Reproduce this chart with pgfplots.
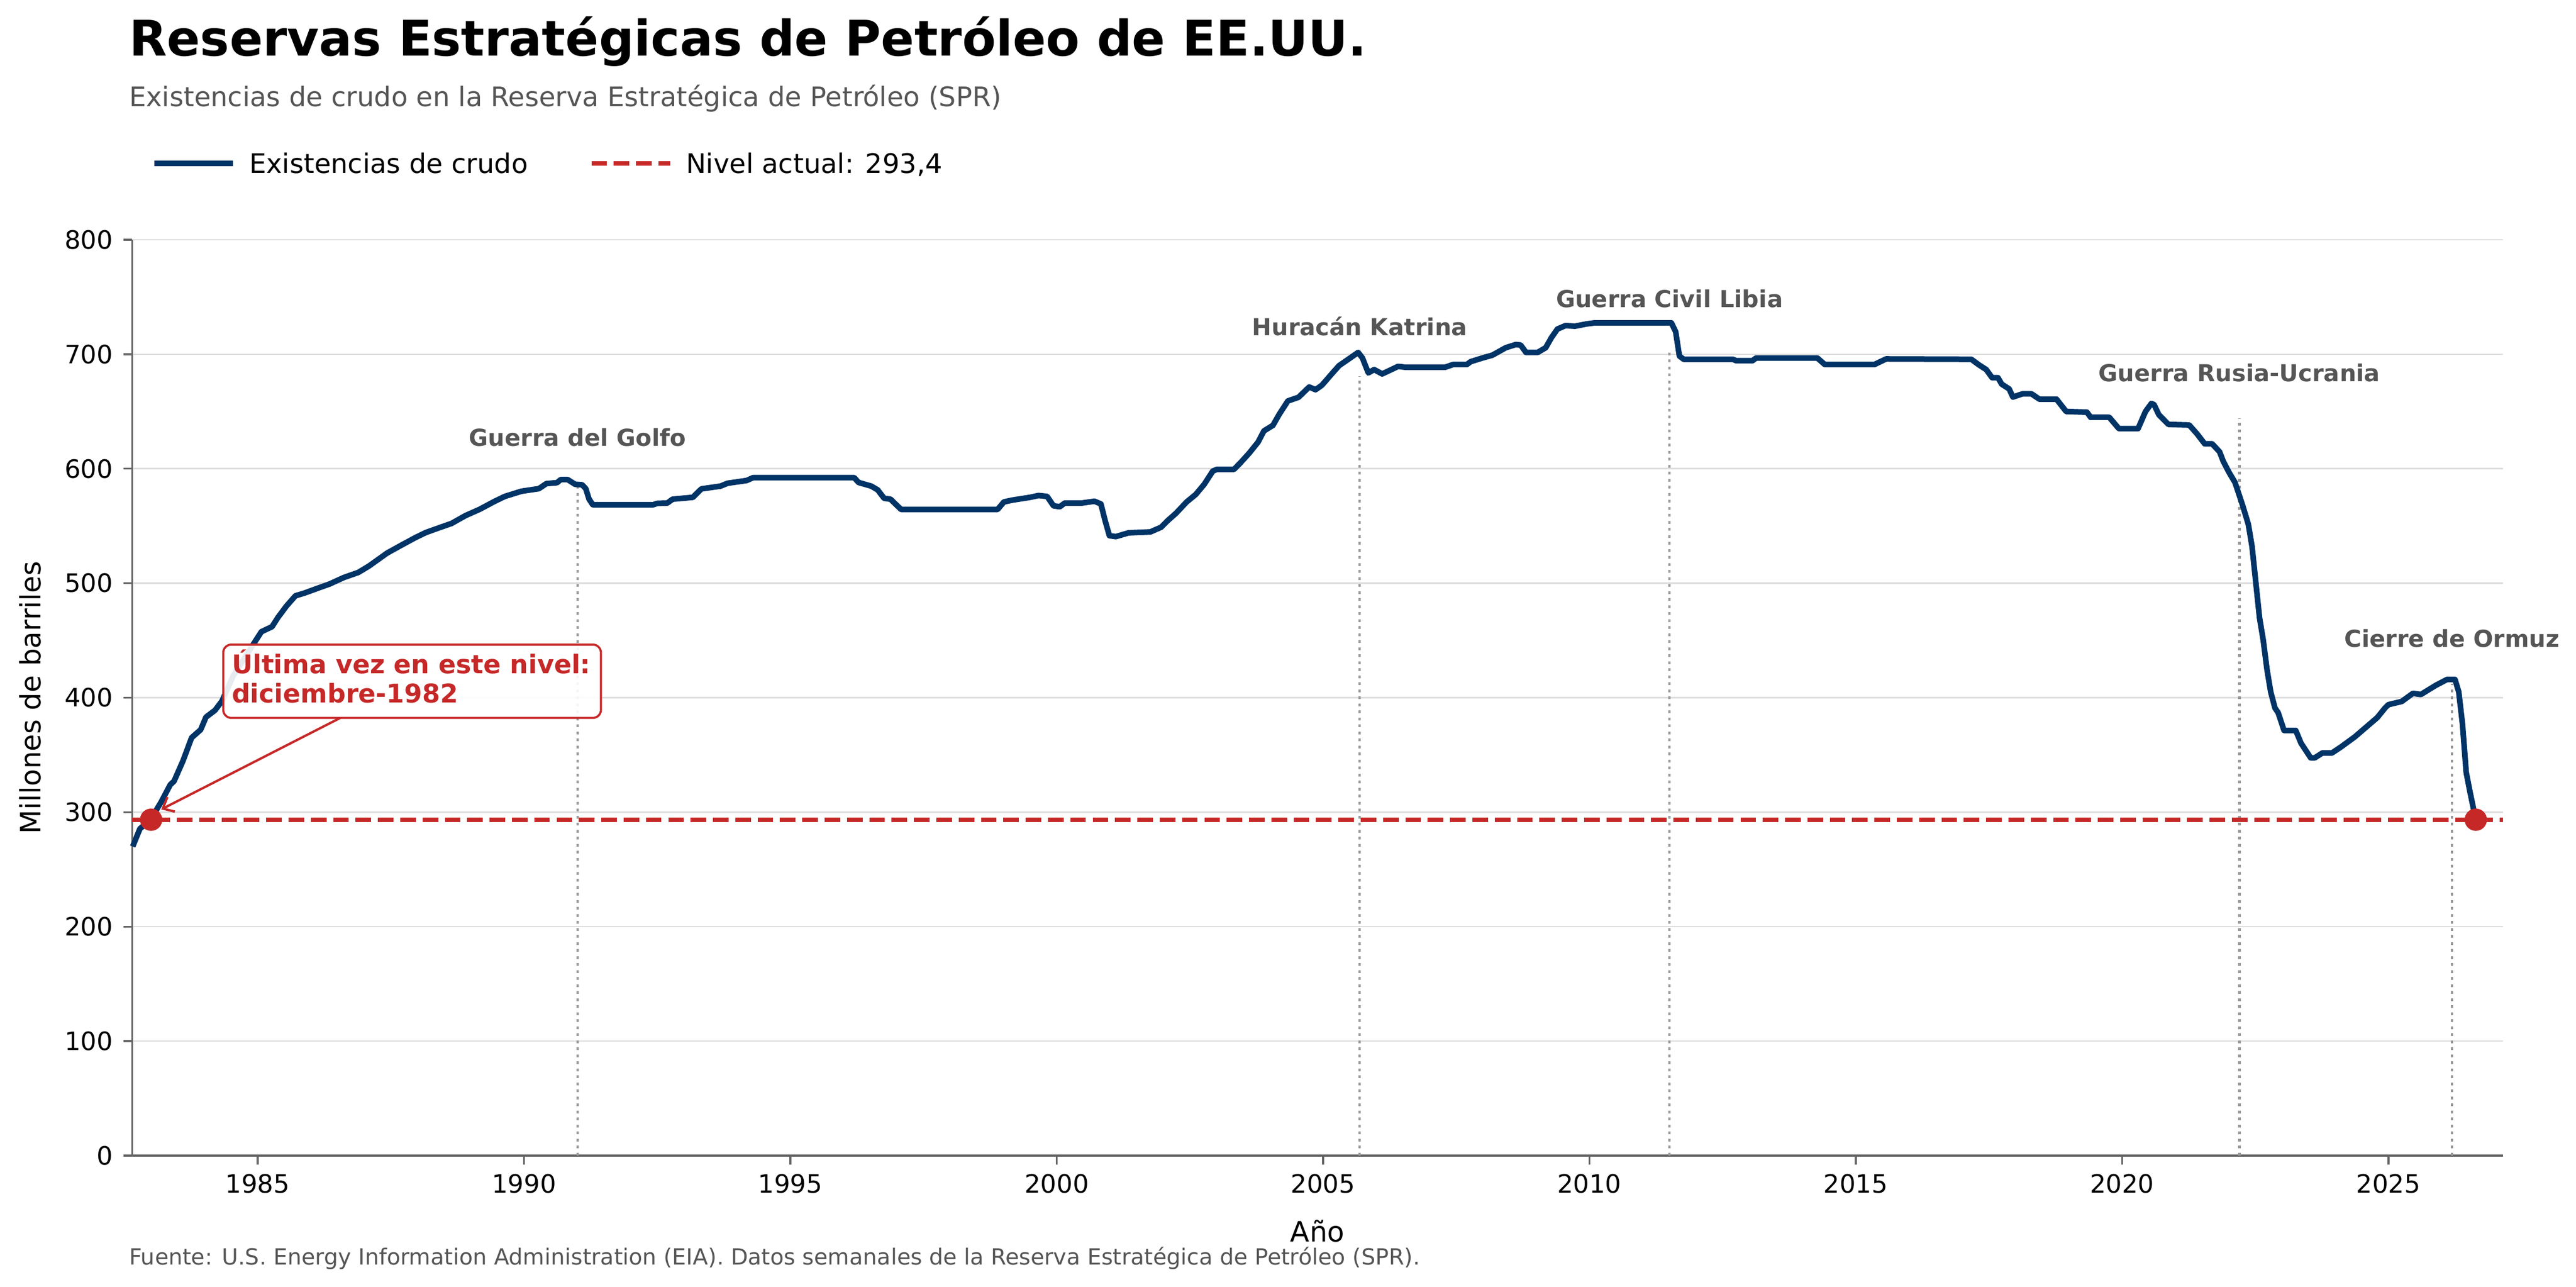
\documentclass[border=0pt]{standalone}
\usepackage{pgfplots}
\pgfplotsset{compat=1.18}
\usepackage{fontspec}
\setmainfont{DejaVu Sans}
\usetikzlibrary{arrows.meta}
\definecolor{navy}{HTML}{003366}
\definecolor{spr}{HTML}{C62828}
\definecolor{txtgray}{HTML}{555555}
\definecolor{spine}{HTML}{666666}
\definecolor{gridc}{HTML}{DDDDDD}
\definecolor{evgray}{HTML}{999999}

\begin{document}
\begin{tikzpicture}
\path[use as bounding box] (0pt,0pt) rectangle (1101.36pt,550.08pt);
\node[anchor=base west, inner sep=0pt, font=\fontsize{21}{25}\selectfont\bfseries] at (55.07pt,526.1pt) {Reservas Estratégicas de Petróleo de EE.UU.};
\node[anchor=base west, inner sep=0pt, text=txtgray, font=\fontsize{11.5}{14}\selectfont] at (55.07pt,504.6pt) {Existencias de crudo en la Reserva Estratégica de Petróleo (SPR)};
\node[anchor=base west, inner sep=0pt, text=txtgray, font=\fontsize{9.5}{11}\selectfont] at (55.07pt,9.36pt) {Fuente: U.S. Energy Information Administration (EIA). Datos semanales de la Reserva Estratégica de Petróleo (SPR).};
\begin{axis}[
  at={(56.52pt,56.16pt)}, anchor=south west,
  scale only axis, width=1013.64pt, height=391.44pt,
  xmin=1982.645, xmax=2027.15, ymin=0, ymax=800,
  clip=false,
  axis lines=left,
  axis line style={-, draw=spine, line width=0.8pt},
  every inner x axis line/.append style={-},
  every inner y axis line/.append style={-},
  every outer x axis line/.append style={-},
  every outer y axis line/.append style={-},
  xtick={1985,1990,1995,2000,2005,2010,2015,2020,2025},
  ytick={0,100,200,300,400,500,600,700,800},
  ymajorgrids, grid style={gridc, line width=0.6pt},
  tick align=outside, major tick length=3.84pt,
  tick style={spine, line width=0.8pt},
  /pgf/number format/1000 sep={},
  /pgf/number format/assume math mode=true,
  tick label style={font=\fontsize{10.8}{13}\selectfont},
  xticklabel style={inner sep=0pt, anchor=north, yshift=-3.84pt},
  yticklabel style={inner sep=0pt, anchor=east, xshift=-4.2pt},
  xlabel={Año},
  xlabel style={at={(axis description cs:0.5,-0.09424)}, anchor=base, inner sep=0pt, font=\fontsize{12}{14}\selectfont},
  ylabel={Millones de barriles},
  ylabel style={at={(axis description cs:-0.03871,0.5)}, anchor=base, inner sep=0pt, font=\fontsize{12}{14}\selectfont},
  legend columns=2,
  legend cell align=left,
  legend style={at={(axis description cs:0.008208,1.08328)}, anchor=west, draw=none, fill=none, inner sep=0pt, outer sep=0pt,
    font=\fontsize{11.5}{13.8}\selectfont,
    nodes={inner sep=0pt, text height=8.38pt, text depth=0pt},
    /tikz/every odd column/.style={column sep=5.8pt},
    /tikz/every even column/.style={column sep=26.2pt}},
  legend image code/.code={\draw[#1] (0pt,0pt) -- (33.6pt,0pt);},
]
% event lines
\addplot[evgray, line width=1pt, dash pattern=on 1.2pt off 1.8pt, forget plot] coordinates {(1991.007,0) (1991.007,585)};
\addplot[evgray, line width=1pt, dash pattern=on 1.2pt off 1.8pt, forget plot] coordinates {(2005.688,0) (2005.688,681)};
\addplot[evgray, line width=1pt, dash pattern=on 1.2pt off 1.8pt, forget plot] coordinates {(2011.504,0) (2011.504,705)};
\addplot[evgray, line width=1pt, dash pattern=on 1.2pt off 1.8pt, forget plot] coordinates {(2022.203,0) (2022.203,644)};
\addplot[evgray, line width=1pt, dash pattern=on 1.2pt off 1.8pt, forget plot] coordinates {(2026.193,0) (2026.193,412)};

\addplot[navy, line width=2.4pt, line join=round, mark=none] coordinates {
(1982.654,270) (1982.79,285.5) (1982.99,293.4) (1983.19,309) (1983.36,324) (1983.43,327)
(1983.60,345) (1983.76,365) (1983.93,372) (1984.03,383) (1984.20,389) (1984.33,397)
(1984.54,419) (1984.91,446) (1985.07,457.6) (1985.27,462) (1985.38,470) (1985.54,480)
(1985.71,489) (1985.88,491.4) (1986.08,494.8) (1986.35,499.3) (1986.62,505) (1986.89,509.4)
(1987.09,515) (1987.43,526.3) (1987.69,533) (1987.96,539.8) (1988.16,544.3) (1988.43,548.8)
(1988.64,552.2) (1988.90,559) (1989.17,564.6) (1989.44,571.3) (1989.64,575.8) (1989.95,580.3)
(1990.28,582.6) (1990.42,587) (1990.62,587.8) (1990.69,590.5) (1990.82,590.5) (1990.96,586.4)
(1991.09,586) (1991.16,582.6) (1991.22,573.6) (1991.29,568.6) (1992.43,568.6) (1992.50,569.7)
(1992.69,570) (1992.79,573.4) (1993.17,575) (1993.33,582.4) (1993.69,584.8) (1993.82,587.3)
(1994.18,589.7) (1994.30,592.2) (1996.20,592.2) (1996.28,588) (1996.52,584.8) (1996.64,581.5)
(1996.76,574.2) (1996.88,573.4) (1997.08,564.4) (1998.89,564.4) (1999.01,571) (1999.17,572.6)
(1999.50,575) (1999.66,576.6) (1999.82,575.8) (1999.94,567.6) (2000.06,566.8) (2000.15,570)
(2000.47,570) (2000.71,571.6) (2000.83,569.2) (2000.91,554.5) (2000.99,541.5) (2001.11,540.7)
(2001.35,544) (2001.76,544.8) (2001.96,548.9) (2002.08,554.5) (2002.24,561.1) (2002.44,571)
(2002.61,577.5) (2002.77,586.4) (2002.93,597.9) (2003.01,599.5) (2003.33,599.5) (2003.45,605.2)
(2003.61,613.4) (2003.78,623.2) (2003.89,633) (2004.06,637.9) (2004.18,647.7) (2004.34,659.2)
(2004.54,662.4) (2004.74,671.4) (2004.86,669) (2004.98,673) (2005.18,683.7) (2005.30,690)
(2005.44,694.5) (2005.66,701.6) (2005.74,696.7) (2005.85,683.7) (2005.96,686.6) (2006.11,682.8)
(2006.41,689.4) (2006.55,688.6) (2007.29,688.6) (2007.44,691) (2007.70,691) (2007.77,693.5)
(2007.99,696.7) (2008.18,699.2) (2008.43,705.7) (2008.62,708.5) (2008.71,708) (2008.81,701.6)
(2009.03,701.6) (2009.18,705.7) (2009.29,714.7) (2009.40,722) (2009.55,725) (2009.73,724.5)
(2009.95,726.5) (2010.10,727.4) (2011.54,727.4) (2011.62,719.6) (2011.69,698.4) (2011.77,695.6)
(2012.69,695.6) (2012.76,694.3) (2013.06,694.3) (2013.13,696.7) (2014.28,696.7) (2014.42,691)
(2015.35,691) (2015.57,695.9) (2017.17,695.6) (2017.31,690.8) (2017.45,686.6) (2017.56,679.5)
(2017.67,679.5) (2017.74,673.9) (2017.88,669.7) (2017.95,662.6) (2018.13,665.4) (2018.30,665.4)
(2018.45,660.7) (2018.77,660.7) (2018.95,650) (2019.34,649.4) (2019.41,644.9) (2019.76,644.9)
(2019.94,635) (2020.30,635) (2020.44,650) (2020.55,657) (2020.60,656) (2020.69,647.2)
(2020.87,638.7) (2021.26,638.2) (2021.41,630.3) (2021.55,621.8) (2021.69,621.8) (2021.83,614.8)
(2021.90,606.4) (2022.01,596.6) (2022.12,588) (2022.26,568.4) (2022.37,551.5) (2022.44,531.9)
(2022.51,500.9) (2022.58,469.9) (2022.65,450.2) (2022.72,424.8) (2022.79,405.1) (2022.87,391)
(2022.93,386.9) (2023.04,371.4) (2023.26,371.4) (2023.36,360.2) (2023.54,347.5) (2023.62,347.5)
(2023.76,351.7) (2023.94,351.7) (2024.12,357.3) (2024.37,365.8) (2024.65,377) (2024.79,382.6)
(2024.94,391.2) (2025.00,393.9) (2025.25,396.7) (2025.46,403.8) (2025.61,402.8) (2025.89,410.8)
(2026.10,415.9) (2026.25,415.9) (2026.32,405.1) (2026.39,377) (2026.46,334.8) (2026.53,318)
(2026.64,293.4)
};
\addlegendentry{Existencias de crudo}
\addplot[spr, line width=2pt, dash pattern=on 6.65pt off 2.9pt, mark=none] coordinates {(1982.645,293.4) (2027.15,293.4)};
\addlegendentry{Nivel actual: 293,4}

% annotation
\draw[spr, line width=1pt, -{Straight Barb[length=4pt,width=7pt]}] (axis cs:1986.55,382.3) -- (axis cs:1983.19,302.4);
\draw[spr, line width=0.9pt, fill=white, fill opacity=0.9, rounded corners=3.5pt] (axis cs:1984.354,382.3) rectangle (axis cs:1991.445,446.4);
\node[anchor=base west, inner sep=0pt, text=spr, font=\fontsize{11}{13}\selectfont\bfseries] at (axis cs:1984.508,421.2) {Última vez en este nivel:};
\node[anchor=base west, inner sep=0pt, text=spr, font=\fontsize{11}{13}\selectfont\bfseries] at (axis cs:1984.508,395.8) {diciembre-1982};

\addplot[only marks, mark=*, mark size=4.56pt, color=spr, mark options={draw=spr, fill=spr}, forget plot] coordinates {(1983.0,293.4) (2026.64,293.4)};

% event labels
\node[anchor=base, inner sep=0pt, text=txtgray, font=\fontsize{10}{12}\selectfont\bfseries] at (axis cs:1991.007,619.6) {Guerra del Golfo};
\node[anchor=base, inner sep=0pt, text=txtgray, font=\fontsize{10}{12}\selectfont\bfseries] at (axis cs:2005.688,716.3) {Huracán Katrina};
\node[anchor=base, inner sep=0pt, text=txtgray, font=\fontsize{10}{12}\selectfont\bfseries] at (axis cs:2011.504,740.8) {Guerra Civil Libia};
\node[anchor=base, inner sep=0pt, text=txtgray, font=\fontsize{10}{12}\selectfont\bfseries] at (axis cs:2022.203,676.2) {Guerra Rusia-Ucrania};
\node[anchor=base, inner sep=0pt, text=txtgray, font=\fontsize{10}{12}\selectfont\bfseries] at (axis cs:2026.193,444) {Cierre de Ormuz};
\end{axis}
\end{tikzpicture}
\end{document}
